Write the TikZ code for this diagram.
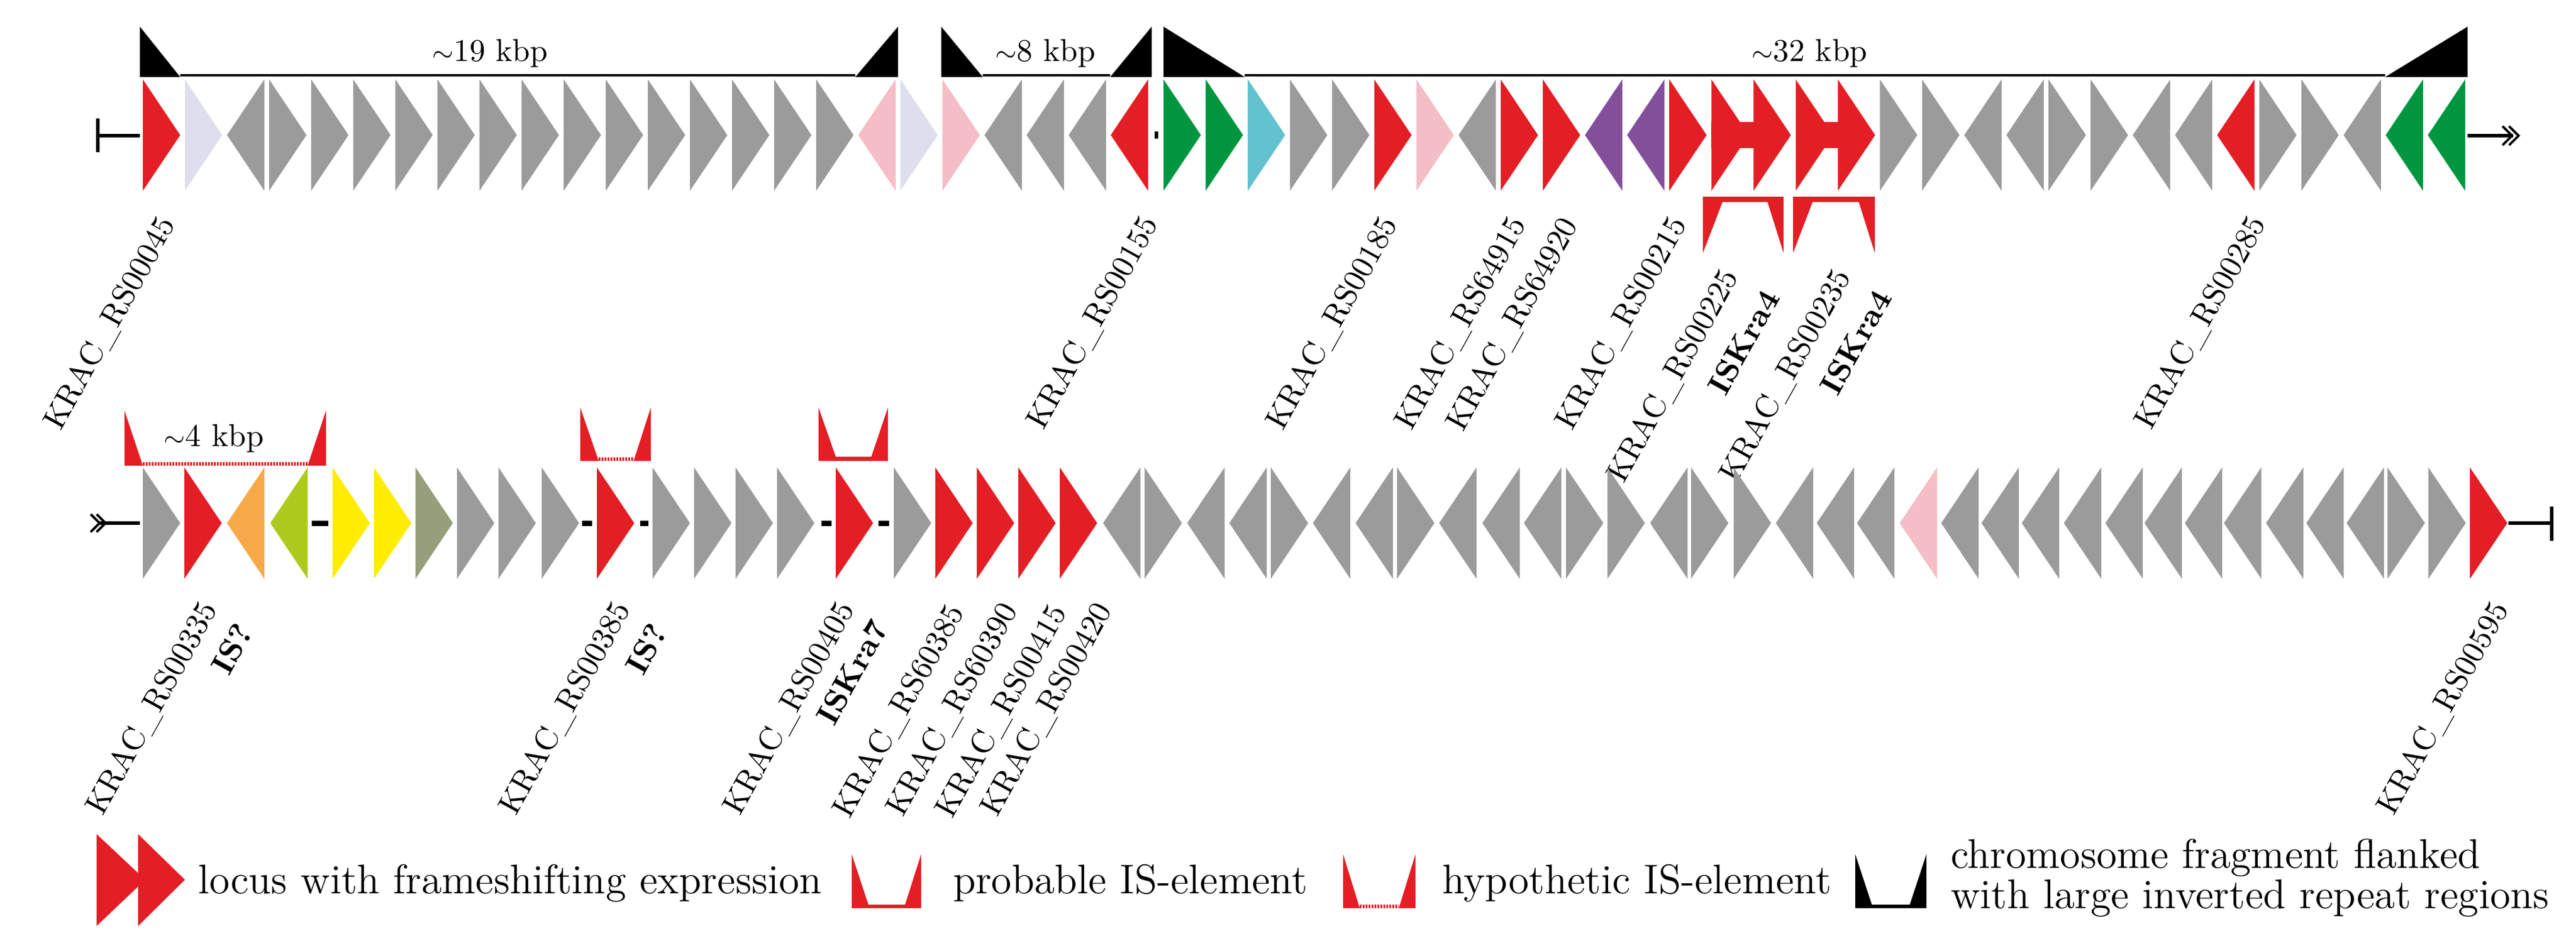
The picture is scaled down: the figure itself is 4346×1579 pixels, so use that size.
\documentclass[tikz,border=0pt]{standalone}
\definecolor{rd}{HTML}{E31E24}
\definecolor{gy}{HTML}{9B9B9B}
\definecolor{lav}{HTML}{DEDFEC}
\definecolor{pk}{HTML}{F5BDC6}
\definecolor{gn}{HTML}{009640}
\definecolor{cy}{HTML}{62C2D0}
\definecolor{pu}{HTML}{834F9B}
\definecolor{org}{HTML}{F7A94A}
\definecolor{yg}{HTML}{AFCA1E}
\definecolor{ye}{HTML}{FFED00}
\definecolor{ol}{HTML}{95A07A}
\newcommand{\gn}[4]{\ifnum#3=1 \fill[#4] (#1,#2-94)--(#1+63,#2)--(#1,#2+94)--cycle;\else\fill[#4] (#1+63,#2-94)--(#1,#2)--(#1+63,#2+94)--cycle;\fi}
\tikzset{lab/.style={rotate=61,anchor=north east,inner sep=0pt,font=\fontsize{10.7}{12}\selectfont},
 kb/.style={inner sep=0pt,font=\fontsize{10.7}{12}\selectfont},
 leg/.style={inner sep=0pt,anchor=base west,font=\fontsize{14}{10.8}\selectfont},
 tail/.style={line width=1.1pt}}
\begin{document}
\begin{tikzpicture}[x=0.2pt,y=-0.2pt]
\useasboundingbox (0,0) rectangle (4346,1579);
% ---------- row 1 ----------
\foreach \k/\d/\c in {0/1/rd,1/1/lav,2/0/gy,3/1/gy,4/1/gy,5/1/gy,6/1/gy,7/1/gy,8/1/gy,9/1/gy,10/1/gy,11/1/gy,12/1/gy,13/1/gy,14/1/gy,15/1/gy,16/1/gy,17/0/pk,18/1/lav,19/1/pk,20/0/gy,21/0/gy,22/0/gy,23/0/rd}
 {\gn{241+71*\k}{228}{\d}{\c}}
\foreach \k/\d/\c in {0/1/gn,1/1/gn,2/1/cy,3/1/gy,4/1/gy,5/1/rd,6/1/pk,7/0/gy,8/1/rd,9/1/rd,10/0/pu,11/0/pu,12/1/rd,13/1/rd,14/1/rd,15/1/rd,16/1/rd,17/1/gy,18/1/gy,19/0/gy,20/0/gy,21/1/gy,22/1/gy,23/0/gy,24/0/gy,25/0/rd,26/1/gy,27/1/gy,28/0/gy,29/0/gn,30/0/gn}
 {\gn{1963+71.1*\k}{228}{\d}{\c}}
\fill[rd] (1963+71.1*13,206) rectangle (1963+71.1*14+30,250);
\fill[rd] (1963+71.1*15,206) rectangle (1963+71.1*16+30,250);
\draw[line width=1.2pt] (1951,222)--(1951,234);
% row 1 ends
\draw[tail] (165,229)--(236,229);
\draw[tail] (165,200)--(165,257);
\draw[tail] (4163,229)--(4240,229);
\draw[line width=0.8pt] (4222,213)--(4238,229)--(4222,245);
\draw[line width=0.8pt] (4233,213)--(4249,229)--(4233,245);
% black brackets
\foreach \xl/\il/\ir/\xr in {236/304/1443/1515,1588/1658/1873/1943,1963/2100/4024/4163}{
 \fill (\xl,45)--(\xl,130)--(\il,130)--cycle;
 \fill (\xr,45)--(\xr,130)--(\ir,130)--cycle;
 \draw[line width=0.8pt] (\il,127)--(\ir,127);}
\node[kb] at (827,90) {{\small$\sim$}19 kbp};
\node[kb] at (1764,90) {{\small$\sim$}8 kbp};
\node[kb] at (3053,90) {{\small$\sim$}32 kbp};
% probable IS row 1
\foreach \l/\r in {2873/3009,3025/3163}
 \fill[rd] (\l,332)--(\r,332)--(\r,427)--(\r-27,341)--(\l+33,341)--(\l,427)--cycle;
% row 1 labels
\node[lab] at (263,358) {KRAC\_RS00045};
\node[lab] at (1921,357) {KRAC\_RS00155};
\node[lab] at (2325,358) {KRAC\_RS00185};
\node[lab] at (2542,358) {KRAC\_RS64915};
\node[lab] at (2629,360) {KRAC\_RS64920};
\node[lab] at (2813,358) {KRAC\_RS00215};
\node[lab] at (2900,447) {KRAC\_RS00225};
\node[lab] at (2971,483) {\bfseries ISKra4};
\node[lab] at (3090,447) {KRAC\_RS00235};
\node[lab] at (3160,483) {\bfseries ISKra4};
\node[lab] at (3790,357) {KRAC\_RS00285};
% ---------- row 2 ----------
\foreach \x/\d/\c in {241/1/gy,311/1/rd,383/0/org,456/0/yg,561/1/ye,631/1/ye,701/1/ol,771/1/gy,841/1/gy,914/1/gy,1007/1/rd,1101/1/gy,1171/1/gy,1241/1/gy,1311/1/gy,1410/1/rd,1508/1/gy,1578/1/rd,1648/1/rd,1718/1/rd,1788/1/rd,1861/0/gy,1931/1/gy,2003/0/gy,2074/0/gy,2144/1/gy,2215/0/gy,2287/0/gy,2357/1/gy,2428/0/gy,2501/0/gy,2571/0/gy,2642/1/gy,2712/1/gy,2784/0/gy,2853/1/gy,2925/1/gy,2996/0/gy,3065/0/gy,3133/0/gy,3205/0/pk,3275/0/gy,3343/0/gy,3411/0/gy,3482/0/gy,3552/0/gy,3618/0/gy,3686/0/gy,3752/0/gy,3823/0/gy,3891/0/gy,3959/0/gy,4028/1/gy,4097/1/gy,4167/1/rd}
 {\gn{\x}{883}{\d}{\c}}
\foreach \a/\b in {526/554,982/999,1080/1094,1386/1403,1482/1500}
 \draw[line width=1.8pt] (\a,883)--(\b,883);
% row 2 ends
\draw[tail] (165,883)--(236,883);
\draw[line width=0.8pt] (153,868)--(168,883)--(153,898);
\draw[line width=0.8pt] (163,868)--(178,883)--(163,898);
\draw[tail] (4232,883)--(4305,883);
\draw[tail] (4305,855)--(4305,913);
% IS brackets row 2
\foreach \l/\il/\ir/\r/\t/\b in {210/241/519/550/693/786,979/1010/1069/1098/688/778}{
 \fill[rd] (\l,\t)--(\l,\b)--(\il,\b)--cycle;
 \fill[rd] (\r,\t)--(\r,\b)--(\ir,\b)--cycle;
 \draw[rd,line width=1.1pt,dash pattern=on 0.5pt off 0.5pt] (\il,\b-3)--(\ir,\b-3);}
\fill[rd] (1381,688)--(1381,778)--(1498,778)--(1498,688)--(1470,771)--(1410,771)--cycle;
\node[kb] at (361,740) {{\small$\sim$}4 kbp};
% row 2 labels
\node[lab] at (334,1008) {KRAC\_RS00335};
\node[lab] at (395,1047) {\bfseries IS?};
\node[lab] at (1031,1008) {KRAC\_RS00385};
\node[lab] at (1094,1047) {\bfseries IS?};
\node[lab] at (1409,1008) {KRAC\_RS00405};
\node[lab] at (1467,1040) {\bfseries ISKra7};
\node[lab] at (1594,1013) {KRAC\_RS60385};
\node[lab] at (1684,1010) {KRAC\_RS60390};
\node[lab] at (1767,1013) {KRAC\_RS00415};
\node[lab] at (1843,1010) {KRAC\_RS00420};
\node[lab] at (4199,1008) {KRAC\_RS00595};
% ---------- legend ----------
\fill[rd] (163,1408)--(245,1485)--(163,1563)--cycle;
\fill[rd] (233,1408)--(312,1485)--(233,1563)--cycle;
\node[leg] (l1) at (333,1508) {locus with frameshifting expression};
\fill[rd] (1437,1442)--(1465,1527)--(1527,1527)--(1554,1442)--(1554,1533)--(1437,1533)--cycle;
\node[leg] (l2) at (1607,1508) {probable IS-element};
\fill[rd] (2266,1442)--(2266,1533)--(2294,1533)--cycle;
\fill[rd] (2388,1442)--(2388,1533)--(2360,1533)--cycle;
\draw[rd,line width=1.1pt,dash pattern=on 0.5pt off 0.5pt] (2294,1530)--(2360,1530);
\node[leg] (l3) at (2432,1508) {hypothetic IS-element};
\fill (3130,1442)--(3158,1527)--(3222,1527)--(3250,1442)--(3250,1533)--(3130,1533)--cycle;
\node[leg,anchor=west,align=left] (l4) at (3290,1482) {chromosome fragment flanked\\with large inverted repeat regions};
\end{tikzpicture}
\end{document}
